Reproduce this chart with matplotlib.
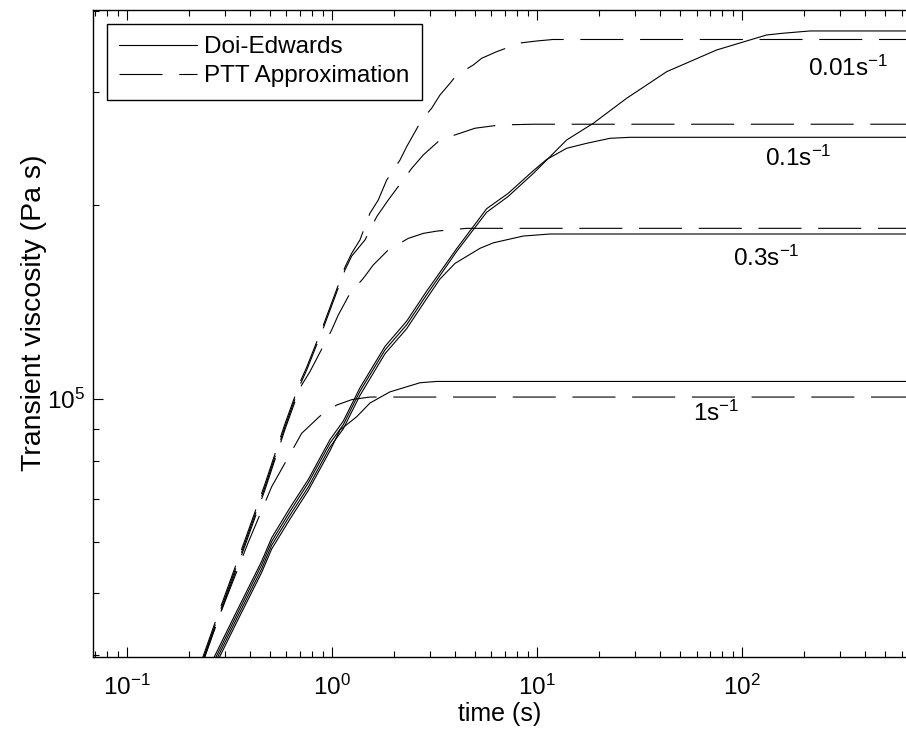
import matplotlib
matplotlib.use('Agg')
import matplotlib.pyplot as plt
from matplotlib import font_manager
from matplotlib.ticker import LogLocator, NullFormatter

names = {f.name for f in font_manager.fontManager.ttflist}
FONT = 'Liberation Sans Narrow' if 'Liberation Sans Narrow' in names else 'Liberation Sans'
FS = 20 if FONT == 'Liberation Sans Narrow' else 17.5

plt.rcParams.update({
    'font.family': [FONT, 'DejaVu Sans'],
    'mathtext.fontset': 'custom',
    'mathtext.rm': FONT,
    'mathtext.it': FONT + ':italic',
    'mathtext.sf': FONT,
    'mathtext.bf': FONT + ':bold',
    'font.size': FS,
    'lines.scale_dashes': False,
})

# ---------------- data (time in s, transient viscosity in Pa s) ----------------
# Doi-Edwards (solid)
de_001_t = [0.2627, 0.3427, 0.4541, 0.5080, 0.6239, 0.7663, 0.9778, 1.135, 1.369, 1.814, 2.314, 2.897,
            4.058, 5.683, 7.221, 9.594, 11.15, 13.96, 18.82, 27.39, 42.93, 75.25, 109.4, 132.0, 159.0,
            214.7, 1000.0]
de_001_v = [3.89e4, 4.62e4, 5.53e4, 6.01e4, 6.69e4, 7.41e4, 8.54e4, 9.12e4, 1.028e5, 1.192e5, 1.304e5,
            1.452e5, 1.695e5, 1.950e5, 2.062e5, 2.240e5, 2.350e5, 2.525e5, 2.680e5, 2.931e5, 3.223e5,
            3.483e5, 3.610e5, 3.675e5, 3.698e5, 3.728e5, 3.728e5]

de_01_t = [0.2627, 0.3427, 0.4541, 0.5080, 0.6239, 0.7663, 0.9778, 1.135, 1.369, 1.814, 2.314, 2.897,
           4.058, 5.683, 7.221, 9.594, 11.15, 13.96, 17.48, 22.71, 28.42, 1000.0]
de_01_v = [3.94e4, 4.68e4, 5.60e4, 6.09e4, 6.78e4, 7.50e4, 8.65e4, 9.24e4, 1.041e5, 1.207e5, 1.321e5,
           1.471e5, 1.712e5, 1.975e5, 2.085e5, 2.262e5, 2.355e5, 2.451e5, 2.495e5, 2.540e5, 2.549e5,
           2.549e5]

de_03_t = [0.2627, 0.3427, 0.4541, 0.5080, 0.6239, 0.7663, 0.9778, 1.135, 1.369, 1.814, 2.314, 2.897,
           3.364, 3.981, 5.272, 6.121, 8.574, 11.57, 1000.0]
de_03_v = [3.84e4, 4.56e4, 5.45e4, 5.93e4, 6.60e4, 7.30e4, 8.42e4, 8.99e4, 1.013e5, 1.176e5, 1.286e5,
           1.432e5, 1.536e5, 1.624e5, 1.714e5, 1.748e5, 1.791e5, 1.804e5, 1.804e5]

de_1_t = [0.2627, 0.3427, 0.4541, 0.5080, 0.6239, 0.7663, 0.9778, 1.094, 1.320, 1.532, 1.918, 2.687,
          3.241, 1000.0]
de_1_v = [3.79e4, 4.50e4, 5.38e4, 5.85e4, 6.51e4, 7.21e4, 8.31e4, 8.952e4, 9.387e4, 9.858e4, 1.026e5,
          1.060e5, 1.065e5, 1.065e5]

# PTT approximation (dashed)
ptt_001_t = [0.2296, 0.2779, 0.3763, 0.4711, 0.5898, 0.6983, 0.7526, 0.9070, 1.157, 1.248, 1.369, 1.532,
             1.682, 1.849, 2.147, 2.314, 2.739, 3.064, 3.364, 3.764, 4.058, 4.891, 5.373, 6.361, 7.385,
             8.262, 10.0, 11.97, 1000.0]
ptt_001_v = [3.90e4, 4.63e4, 6.04e4, 7.38e4, 9.15e4, 1.062e5, 1.120e5, 1.301e5, 1.602e5, 1.684e5, 1.766e5,
             1.943e5, 2.037e5, 2.188e5, 2.350e5, 2.465e5, 2.712e5, 2.828e5, 2.965e5, 3.092e5, 3.185e5,
             3.301e5, 3.381e5, 3.462e5, 3.524e5, 3.571e5, 3.597e5, 3.616e5, 3.616e5]

ptt_01_t = [0.2296, 0.2779, 0.3763, 0.4711, 0.5898, 0.6983, 0.7526, 0.9070, 1.157, 1.248, 1.449, 1.652,
            1.882, 2.448, 2.789, 3.364, 4.211, 4.984, 6.601, 9.561, 1000.0]
ptt_01_v = [3.864e4, 4.586e4, 5.976e4, 7.302e4, 9.057e4, 1.0514e5, 1.109e5, 1.288e5, 1.586e5, 1.667e5,
            1.766e5, 1.919e5, 2.037e5, 2.281e5, 2.393e5, 2.525e5, 2.586e5, 2.633e5, 2.664e5, 2.671e5,
            2.671e5]

ptt_03_t = [0.2296, 0.2779, 0.3763, 0.4711, 0.5898, 0.6983, 0.781, 0.9966, 1.073, 1.224, 1.421, 1.590,
            1.882, 2.356, 2.789, 3.252, 4.541, 1000.0]
ptt_03_v = [3.83e4, 4.54e4, 5.92e4, 7.23e4, 8.97e4, 1.041e5, 1.103e5, 1.280e5, 1.350e5, 1.459e5, 1.539e5,
            1.615e5, 1.704e5, 1.776e5, 1.808e5, 1.823e5, 1.841e5, 1.841e5]

ptt_1_t = [0.2296, 0.2779, 0.3893, 0.5080, 0.6476, 0.7113, 0.874, 1.054, 1.252, 1.532, 1000.0]
ptt_1_v = [3.83e4, 4.55e4, 5.976e4, 7.309e4, 8.384e4, 8.846e4, 9.410e4, 9.788e4, 9.982e4, 1.0072e5,
           1.0072e5]

rate_labels = [r'0.01s$^{-1}$', r'0.1s$^{-1}$', r'0.3s$^{-1}$', r'1s$^{-1}$']
legend_labels = ['Doi-Edwards', 'PTT Approximation']

# ---------------- figure ----------------
W, H = 906, 736
fig = plt.figure(figsize=(W / 100, H / 100), dpi=100)
ax_l, ax_r, ax_t, ax_b = 93, 906, 10, 657
ax = fig.add_axes([ax_l / W, 1 - ax_b / H, (ax_r - ax_l) / W, (ax_b - ax_t) / H])
ax.set_xscale('log')
ax.set_yscale('log')
ax.set_xlim(0.0683, 631)
ax.set_ylim(3.977e4, 4.018e5)

lw = 0.8
dash = (31, 12)
solid_series = [(de_001_t, de_001_v), (de_01_t, de_01_v), (de_03_t, de_03_v), (de_1_t, de_1_v)]
dash_series = [(ptt_001_t, ptt_001_v), (ptt_01_t, ptt_01_v), (ptt_03_t, ptt_03_v), (ptt_1_t, ptt_1_v)]
h_solid = h_dash = None
for i, (t, v) in enumerate(solid_series):
    l, = ax.plot(t, v, color='k', lw=lw, label=legend_labels[0] if i == 0 else None)
    if i == 0:
        h_solid = l
for i, (t, v) in enumerate(dash_series):
    l, = ax.plot(t, v, color='k', lw=lw, dashes=dash, label=legend_labels[1] if i == 0 else None)
    if i == 0:
        h_dash = l

ax.yaxis.set_major_locator(LogLocator(base=10))
ax.yaxis.set_minor_locator(LogLocator(base=10, subs=range(2, 10)))
ax.yaxis.set_minor_formatter(NullFormatter())
ax.xaxis.set_minor_formatter(NullFormatter())
ax.tick_params(which='both', direction='in', top=True, right=False, width=0.8, labelsize=FS)
ax.tick_params(which='major', length=7, pad=13)
ax.tick_params(which='minor', length=4)
ax.tick_params(axis='y', which='major', pad=6)
for s in ax.spines.values():
    s.set_linewidth(1.0)
ax.spines['right'].set_visible(False)

ax.set_xlabel('time (s)', fontsize=FS + 0.5)
ax.xaxis.set_label_coords((500 - ax_l) / (ax_r - ax_l), -0.07)
ax.set_ylabel('Transient viscosity (Pa s)', fontsize=FS + 3)
ax.yaxis.set_label_coords(-0.057, 0.532)

pw, ph = ax_r - ax_l, ax_b - ax_t
label_px = [(808, 68), (765, 158), (733, 258), (693, 413)]
for txt, (px, py) in zip(rate_labels, label_px):
    ax.text((px - ax_l) / pw, (ax_b - py) / ph, txt, transform=ax.transAxes,
            ha='left', va='center', fontsize=FS)

leg = ax.legend(handles=[h_solid, h_dash], loc='upper left',
                bbox_to_anchor=(14 / pw, 1 - 14 / ph), borderaxespad=0,
                frameon=True, fancybox=False, edgecolor='k', framealpha=1,
                handlelength=3.2, handletextpad=0.3, labelspacing=0.3,
                borderpad=0.5, fontsize=FS)
leg.get_frame().set_linewidth(1.0)

fig.savefig('out.png', dpi=100)
